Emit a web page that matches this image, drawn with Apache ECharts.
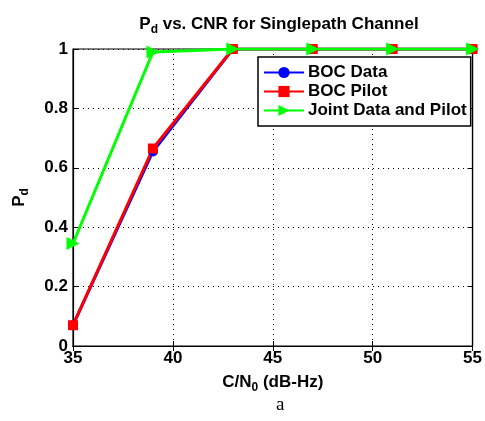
<!DOCTYPE html>
<html><head><meta charset="utf-8">
<script src="https://cdn.jsdelivr.net/npm/echarts@6/dist/echarts.min.js"></script>
<style>html,body{margin:0;padding:0;background:#fff}#c{width:485px;height:421px}</style>
</head><body><div id="c"></div>
<script>
const xValues = [35, 39, 43, 47, 51, 55];
const bocData = [0.07, 0.655, 1, 1, 1, 1];
const bocPilot = [0.07, 0.665, 1, 1, 1, 1];
const jointData = [0.345, 0.99, 1, 1, 1, 1];
const seriesNames = ['BOC Data', 'BOC Pilot', 'Joint Data and Pilot'];

const pairs = a => xValues.map((x, i) => [x, a[i]]);
const font = 'Liberation Sans, Arial, sans-serif';
const chart = echarts.init(document.getElementById('c'));
const gridDotted = {show: true, lineStyle: {color: '#000', type: [1, 4], width: 1}};
chart.setOption({
  animation: false,
  title: {
    text: '{m|P}{s|d}{m| vs. CNR for Singlepath Channel}',
    left: 274, top: 7, textAlign: 'center',
    textStyle: {rich: {
      m: {fontFamily: font, fontWeight: 'bold', fontSize: 17, color: '#000'},
      s: {fontFamily: font, fontWeight: 'bold', fontSize: 12, color: '#000', verticalAlign: 'bottom', padding: [12, 0, 0, 0]}
    }}
  },
  grid: {left: 73, right: 10, top: 49, bottom: 75, show: true, borderColor: '#000', borderWidth: 1.2, backgroundColor: '#fff'},
  legend: {
    orient: 'vertical', left: 258, top: 57, itemWidth: 40, itemHeight: 14, itemGap: 2,
    padding: [7, 4, 7, 5],
    backgroundColor: '#fff', borderColor: '#000', borderWidth: 1.5, borderRadius: 0,
    textStyle: {fontFamily: font, fontWeight: 'bold', fontSize: 17, color: '#000', padding: [0, 0, 0, -1]},
    data: seriesNames
  },
  xAxis: [{
    type: 'value', min: 35, max: 55, interval: 5,
    name: '{m|C/N}{s|0}{m| (dB-Hz)}', nameLocation: 'middle', nameGap: 24,
    nameTextStyle: {rich: {
      m: {fontFamily: font, fontWeight: 'bold', fontSize: 17, color: '#000'},
      s: {fontFamily: font, fontWeight: 'bold', fontSize: 12, color: '#000', verticalAlign: 'bottom', padding: [12, 0, 0, 0]}
    }},
    axisLine: {show: true, lineStyle: {color: '#000', width: 1.2}},
    axisTick: {show: true, inside: true, length: 5, lineStyle: {color: '#000'}},
    axisLabel: {fontFamily: font, fontWeight: 'bold', fontSize: 17, color: '#000', margin: 4},
    splitLine: gridDotted
  }, {
    type: 'value', min: 35, max: 55, interval: 5, position: 'top',
    axisLine: {show: true, lineStyle: {color: '#000', width: 1.2}},
    axisTick: {show: true, inside: true, length: 5, lineStyle: {color: '#000'}},
    axisLabel: {show: false}, splitLine: {show: false}
  }],
  yAxis: [{
    type: 'value', min: 0, max: 1, interval: 0.2,
    name: '{m|P}{s|d}', nameLocation: 'middle', nameGap: 42, nameRotate: 90,
    nameTextStyle: {rich: {
      m: {fontFamily: font, fontWeight: 'bold', fontSize: 17, color: '#000'},
      s: {fontFamily: font, fontWeight: 'bold', fontSize: 12, color: '#000', verticalAlign: 'bottom', padding: [12, 0, 0, 0]}
    }},
    axisLine: {show: true, lineStyle: {color: '#000', width: 1.2}},
    axisTick: {show: true, inside: true, length: 5, lineStyle: {color: '#000'}},
    axisLabel: {fontFamily: font, fontWeight: 'bold', fontSize: 17, color: '#000', margin: 5,
      formatter: v => String(Math.round(v * 10) / 10)},
    splitLine: gridDotted
  }, {
    type: 'value', min: 0, max: 1, interval: 0.2, position: 'right',
    axisLine: {show: true, lineStyle: {color: '#000', width: 1.2}},
    axisTick: {show: true, inside: true, length: 5, lineStyle: {color: '#000'}},
    axisLabel: {show: false}, splitLine: {show: false}
  }],
  series: [
    {name: seriesNames[0], type: 'line', data: pairs(bocData), color: '#0000ff',
     lineStyle: {width: 3}, symbol: 'circle', symbolSize: 10},
    {name: seriesNames[1], type: 'line', data: pairs(bocPilot), color: '#ff0000',
     lineStyle: {width: 3}, symbol: 'rect', symbolSize: 10},
    {name: seriesNames[2], type: 'line', data: pairs(jointData), color: '#00ff00',
     lineStyle: {width: 3}, symbol: 'triangle', symbolSize: 13, symbolRotate: -90}
  ],
  graphic: [{type: 'text', left: 276, top: 396,
    style: {text: 'a', fontFamily: 'Liberation Serif, Times New Roman, serif', fontSize: 19, fill: '#000'}}]
});
</script></body></html>
